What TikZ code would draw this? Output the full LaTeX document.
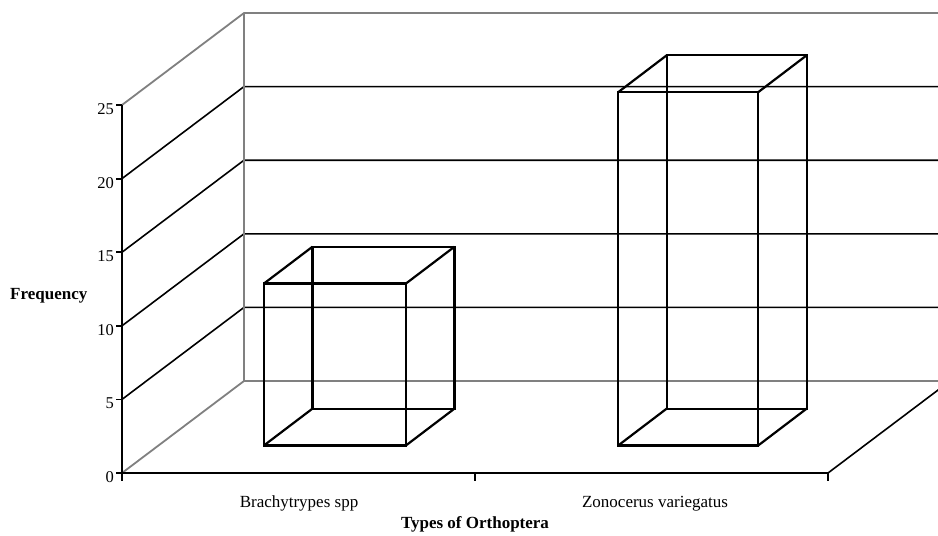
\documentclass[tikz,border=0pt]{standalone}
\usepackage{fontspec}
\setmainfont{Liberation Serif}
\begin{document}
\begin{tikzpicture}[x=1pt,y=-1pt,
  edge/.style={draw={rgb,255:red,128;green,128;blue,128},line width=1.8pt},
  gridline/.style={draw=black,line width=1.6pt},
  axisline/.style={draw=black,line width=2.8pt},
  tickline/.style={draw=black,line width=1.8pt},
  barline/.style={draw=black,line width=2.2pt,line join=miter},
  ticklabel/.style={anchor=east,inner sep=0pt,font=\fontsize{16.5}{18}\selectfont},
  catlabel/.style={anchor=base,inner sep=0pt,font=\fontsize{17}{20}\selectfont},
  titlelabel/.style={anchor=base,inner sep=0pt,font=\fontsize{17}{20}\selectfont\bfseries}]
\clip (0,0) rectangle (938,536);
\fill[white] (0,0) rectangle (938,536);
% front axis points (value levels 0..25)
\foreach \k/\yy in {0/473,1/399.4,2/325.8,3/252.2,4/178.6,5/105}{
  \coordinate (f\k) at (122,\yy);
  \coordinate (b\k) at (244,\yy-92);
  \coordinate (r\k) at (950,\yy-92);
}
% side wall and back wall grid
\foreach \k in {1,2,3,4}{
  \draw[gridline] (f\k) -- (b\k) -- (r\k);
}
\draw[edge] (f5) -- (b5) -- (r5);
\draw[edge] (f0) -- (b0) -- (r0);
\draw[edge] (b0) -- (b5);
% floor right edge
\coordinate (xend) at (828,473);
\coordinate (xendback) at (950,381);
\draw[gridline] (xend) -- (xendback);
% bar 1 : Brachytrypes spp
\coordinate (p1a) at (264,445.4); \coordinate (p1b) at (406,445.4);
\coordinate (p1c) at (406,283.5); \coordinate (p1d) at (264,283.5);
\coordinate (q1a) at (312.5,408.6); \coordinate (q1b) at (454.5,408.6);
\coordinate (q1c) at (454.5,246.7); \coordinate (q1d) at (312.5,246.7);
\draw[barline] (p1a) -- (p1b) -- (p1c) -- (p1d) -- cycle;
\draw[barline] (q1a) -- (q1b) -- (q1c) -- (q1d) -- cycle;
\draw[barline] (p1a) -- (q1a) (p1b) -- (q1b) (p1c) -- (q1c) (p1d) -- (q1d);
% bar 2 : Zonocerus variegatus
\coordinate (p2a) at (618.3,445.4); \coordinate (p2b) at (758.3,445.4);
\coordinate (p2c) at (758.3,92.1); \coordinate (p2d) at (618.3,92.1);
\coordinate (q2a) at (666.7,408.6); \coordinate (q2b) at (806.7,408.6);
\coordinate (q2c) at (806.7,55.3); \coordinate (q2d) at (666.7,55.3);
\draw[barline] (p2a) -- (p2b) -- (p2c) -- (p2d) -- cycle;
\draw[barline] (q2a) -- (q2b) -- (q2c) -- (q2d) -- cycle;
\draw[barline] (p2a) -- (q2a) (p2b) -- (q2b) (p2c) -- (q2c) (p2d) -- (q2d);
% axes
\coordinate (ybot) at (122,481);
\draw[tickline] (f5) -- (ybot);
\draw[axisline] (f0) -- (xend);
\coordinate (xmid) at (475,473);
\coordinate (xmidb) at (475,481);
\coordinate (xendb) at (828,481);
\draw[tickline] (xmid) -- (xmidb);
\draw[tickline] (xend) -- (xendb);
\foreach \k/\lab in {0/0,1/5,2/10,3/15,4/20,5/25}{
  \draw[tickline] (f\k) -- ++(-6,0) coordinate (t\k);
  \node[ticklabel] (l\k) at ([xshift=-2pt,yshift=-4pt]t\k) {\lab};
}
% labels
\node[catlabel] (c1) at (299,507) {Brachytrypes spp};
\node[catlabel] (c2) at (655,507) {Zonocerus variegatus};
\node[titlelabel] (xt) at (475,528) {Types of Orthoptera};
\node[titlelabel,anchor=base west] (yt) at (10,299) {Frequency};
\end{tikzpicture}
\end{document}
